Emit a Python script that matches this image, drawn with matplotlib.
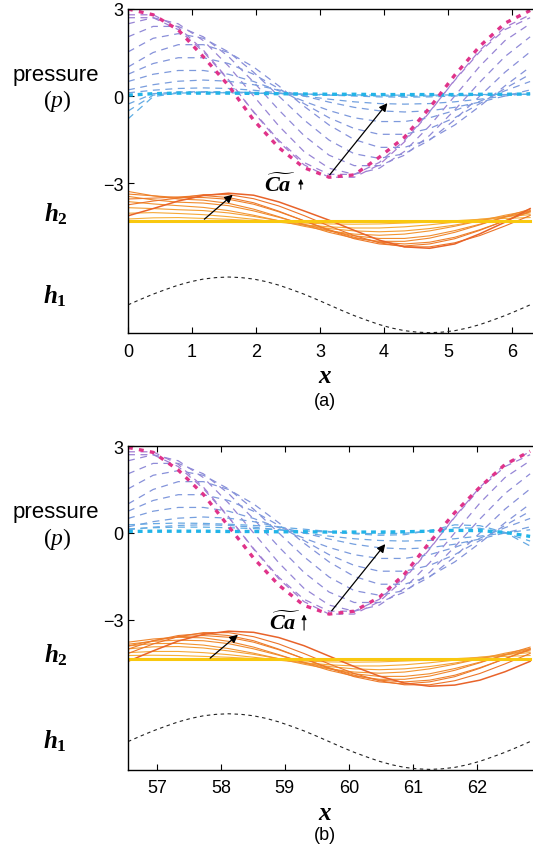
import numpy as np
import matplotlib.pyplot as plt
from matplotlib.colors import LinearSegmentedColormap

plt.rcParams['font.family'] = ['Liberation Sans', 'DejaVu Sans']
plt.rcParams['mathtext.fontset'] = 'custom'
plt.rcParams['mathtext.rm'] = 'Liberation Serif'
plt.rcParams['mathtext.it'] = 'Liberation Serif:italic:bold'
plt.rcParams['mathtext.bf'] = 'Liberation Serif:bold'
plt.rcParams['mathtext.sf'] = 'Liberation Serif:italic'
plt.rcParams['lines.scale_dashes'] = False

# sample positions inside one wavelength (panel b starts at 18*pi)
U = [0.000, 0.393, 0.785, 1.178, 1.571, 1.963, 2.356, 2.749, 3.142,
     3.534, 3.927, 4.320, 4.712, 5.105, 5.498, 5.890, 6.283]
U_FINE = [0.000, 0.196, 0.393, 0.589, 0.785, 0.982, 1.178, 1.374, 1.571,
          1.767, 1.963, 2.160, 2.356, 2.553, 2.749, 2.945, 3.142, 3.338,
          3.534, 3.731, 3.927, 4.123, 4.320, 4.516, 4.712, 4.909, 5.105,
          5.301, 5.498, 5.694, 5.890, 6.087, 6.283]
X0_A = 0.0
X0_B = 56.549

# pressure, smallest Ca (magenta)
P_MAG_A = [3.0, 2.8, 2.28, 1.35, 0.36, -0.83, -1.78, -2.47, -2.8,
           -2.72, -2.11, -1.42, -0.41, 0.72, 1.72, 2.51, 2.95]
P_MAG_B = [2.95, 2.78, 2.17, 1.33, 0.23, -0.87, -1.8, -2.5, -2.8,
           -2.7, -2.22, -1.42, -0.33, 0.7, 1.58, 2.36, 2.82]

# pressure, intermediate Ca (same in both windows)
P_MID = [
    [2.80, 2.80, 2.37, 1.58, 0.56, -0.56, -1.58, -2.37, -2.80, -2.80, -2.37, -1.58, -0.56, 0.56, 1.58, 2.37, 2.80],
    [2.70, 2.70, 2.29, 1.53, 0.54, -0.54, -1.53, -2.29, -2.70, -2.70, -2.29, -1.53, -0.54, 0.54, 1.53, 2.29, 2.70],
    [2.49, 2.70, 2.49, 1.91, 1.03, 0.0, -1.03, -1.91, -2.49, -2.70, -2.49, -1.91, -1.03, 0.0, 1.03, 1.91, 2.49],
    [2.04, 2.40, 2.40, 2.04, 1.36, 0.48, -0.48, -1.36, -2.04, -2.40, -2.40, -2.04, -1.36, -0.48, 0.48, 1.36, 2.04],
    [1.52, 1.99, 2.15, 1.99, 1.52, 0.82, 0.0, -0.82, -1.52, -1.99, -2.15, -1.99, -1.52, -0.82, 0.0, 0.82, 1.52],
    [1.00, 1.50, 1.77, 1.77, 1.50, 1.00, 0.35, -0.35, -1.00, -1.50, -1.77, -1.77, -1.50, -1.00, -0.35, 0.35, 1.00],
    [0.75, 1.12, 1.32, 1.32, 1.12, 0.75, 0.26, -0.26, -0.75, -1.12, -1.32, -1.32, -1.12, -0.75, -0.26, 0.26, 0.75],
    [0.50, 0.75, 0.88, 0.88, 0.75, 0.50, 0.18, -0.18, -0.50, -0.75, -0.88, -0.88, -0.75, -0.50, -0.18, 0.18, 0.50],
    [0.21, 0.39, 0.51, 0.55, 0.51, 0.39, 0.21, 0.0, -0.21, -0.39, -0.51, -0.55, -0.51, -0.39, -0.21, 0.0, 0.21],
    [0.11, 0.20, 0.26, 0.28, 0.26, 0.20, 0.11, 0.0, -0.11, -0.20, -0.26, -0.28, -0.26, -0.20, -0.11, 0.0, 0.11],
]

# pressure, large Ca (near zero)
P_NEAR_A = [
    [-0.28, 0.08, 0.14, 0.15, 0.14, 0.12, 0.09, 0.06, 0.03, 0.0, -0.03, -0.04, -0.03, 0.0, 0.03, 0.05, 0.06],
    [-0.52, 0.03, 0.12, 0.13, 0.12, 0.1, 0.08, 0.06, 0.04, 0.02, 0.0, -0.01, 0.0, 0.02, 0.04, 0.05, 0.06],
    [-0.79, -0.02, 0.1, 0.12, 0.11, 0.1, 0.08, 0.07, 0.05, 0.04, 0.03, 0.03, 0.03, 0.04, 0.05, 0.06, 0.06],
]
P_NEAR_B = [
    [0.28, 0.32, 0.34, 0.33, 0.3, 0.26, 0.2, 0.13, 0.05, -0.03, -0.08, -0.06, 0.08, 0.28, 0.25, 0.02, -0.45],
    [0.14, 0.18, 0.2, 0.2, 0.18, 0.15, 0.11, 0.07, 0.03, -0.01, -0.03, -0.01, 0.07, 0.18, 0.16, 0.0, -0.28],
]
P_BLUE_A = [0.03, 0.08, 0.1, 0.1, 0.1, 0.09, 0.08, 0.07, 0.06, 0.06, 0.05, 0.05, 0.05, 0.05, 0.06, 0.06, 0.07]
P_BLUE_B = [0.05, 0.06, 0.06, 0.06, 0.05, 0.05, 0.04, 0.04, 0.03, 0.03, 0.03, 0.04, 0.06, 0.09, 0.08, 0.02, -0.12]

# interface h2 (shifted for display)
H2_FLAT_A = -4.3
H2_FLAT_B = -4.34
H2_A = [
    [-4.24, -4.2, -4.19, -4.22, -4.25, -4.3, -4.35, -4.38, -4.41, -4.42, -4.41, -4.38, -4.35, -4.3, -4.25, -4.22, -4.19],
    [-4.04, -4.02, -4.05, -4.09, -4.16, -4.25, -4.35, -4.44, -4.51, -4.55, -4.55, -4.51, -4.44, -4.35, -4.25, -4.16, -4.09],
    [-3.85, -3.88, -3.92, -3.95, -4.03, -4.15, -4.3, -4.45, -4.57, -4.65, -4.68, -4.65, -4.57, -4.45, -4.3, -4.15, -4.03],
    [-3.64, -3.72, -3.78, -3.84, -3.95, -4.11, -4.3, -4.49, -4.65, -4.76, -4.8, -4.76, -4.65, -4.49, -4.3, -4.11, -3.95],
    [-3.46, -3.58, -3.66, -3.69, -3.78, -3.96, -4.18, -4.42, -4.64, -4.82, -4.91, -4.91, -4.82, -4.64, -4.42, -4.18, -3.96],
    [-3.29, -3.44, -3.55, -3.59, -3.7, -3.9, -4.16, -4.44, -4.7, -4.9, -5.01, -5.01, -4.9, -4.7, -4.44, -4.16, -3.9],
    [-3.38, -3.44, -3.5, -3.5, -3.56, -3.73, -3.99, -4.3, -4.61, -4.87, -5.04, -5.1, -5.04, -4.87, -4.61, -4.3, -3.99],
    [-3.55, -3.52, -3.48, -3.43, -3.5, -3.68, -3.97, -4.3, -4.63, -4.92, -5.1, -5.17, -5.1, -4.92, -4.63, -4.3, -3.97],
    [-3.75, -3.62, -3.52, -3.4, -3.4, -3.54, -3.79, -4.12, -4.48, -4.81, -5.06, -5.2, -5.2, -5.06, -4.81, -4.48, -4.12],
    [-4.13, -3.88, -3.62, -3.43, -3.35, -3.42, -3.65, -3.96, -4.28, -4.63, -4.97, -5.2, -5.25, -5.1, -4.75, -4.35, -3.88],
]
H2_B = [
    [-4.23, -4.22, -4.23, -4.26, -4.29, -4.34, -4.39, -4.42, -4.45, -4.46, -4.45, -4.42, -4.39, -4.34, -4.29, -4.26, -4.23],
    [-4.13, -4.09, -4.09, -4.13, -4.2, -4.29, -4.39, -4.48, -4.55, -4.59, -4.59, -4.55, -4.48, -4.39, -4.29, -4.2, -4.13],
    [-4.0, -3.93, -3.92, -3.97, -4.07, -4.19, -4.34, -4.49, -4.61, -4.69, -4.72, -4.69, -4.61, -4.49, -4.34, -4.19, -4.07],
    [-3.9, -3.82, -3.81, -3.87, -3.99, -4.15, -4.34, -4.53, -4.69, -4.8, -4.84, -4.8, -4.69, -4.53, -4.34, -4.15, -3.99],
    [-3.84, -3.74, -3.7, -3.72, -3.82, -4.0, -4.22, -4.46, -4.68, -4.86, -4.95, -4.95, -4.86, -4.68, -4.46, -4.22, -4.0],
    [-3.77, -3.66, -3.6, -3.62, -3.74, -3.94, -4.2, -4.48, -4.74, -4.94, -5.05, -5.05, -4.94, -4.74, -4.48, -4.2, -3.94],
    [-3.9, -3.72, -3.58, -3.54, -3.6, -3.77, -4.03, -4.34, -4.65, -4.91, -5.08, -5.14, -5.08, -4.91, -4.65, -4.34, -4.03],
    [-4.01, -3.72, -3.54, -3.47, -3.54, -3.72, -4.01, -4.34, -4.67, -4.96, -5.14, -5.21, -5.14, -4.96, -4.67, -4.34, -4.01],
    [-4.16, -3.83, -3.58, -3.44, -3.44, -3.58, -3.83, -4.16, -4.52, -4.85, -5.1, -5.24, -5.24, -5.1, -4.85, -4.52, -4.16],
    [-4.43, -4.07, -3.73, -3.5, -3.39, -3.43, -3.61, -3.89, -4.25, -4.61, -4.94, -5.18, -5.29, -5.25, -5.08, -4.79, -4.43],
]

# wall h1 (shifted for display)
H1 = [-7.2, -7.01, -6.83, -6.67, -6.52, -6.4, -6.31, -6.26, -6.24, -6.26, -6.31,
      -6.4, -6.52, -6.67, -6.83, -7.01, -7.2, -7.39, -7.57, -7.73, -7.88, -8.0,
      -8.09, -8.14, -8.16, -8.14, -8.09, -8.0, -7.88, -7.73, -7.57, -7.39, -7.2]

X_TICKS_A = [0, 1, 2, 3, 4, 5, 6]
X_TICKS_B = [57, 58, 59, 60, 61, 62]
Y_TICKS = [3, 0, -3]

W, H = 533, 853
p_cmap = LinearSegmentedColormap.from_list('p', ['#A57CD2', '#8A8FD9', '#7A9DDD', '#5FAEE5'])
h_cmap = LinearSegmentedColormap.from_list('h', ['#F7B13A', '#F08C2E', '#EC7429'])


def draw_panel(ax, x0, p_mag, p_near, p_blue, h2_list, h2_flat, xticks):
    xu = np.array(U) + x0
    xf = np.array(U_FINE) + x0

    mids = P_MID + p_near
    for i, yv in enumerate(mids):
        ax.plot(xu, yv, color=p_cmap(i / (len(mids) - 1)), lw=0.9,
                dashes=(5, 4))
    ax.plot(xu, p_blue, color='#22B4E8', lw=2.4, dashes=(3.5, 3.5))
    ax.plot(xu, p_mag, color='#E0338A', lw=2.4, dashes=(3.5, 4.5))

    for i, yv in enumerate(h2_list):
        last = i == len(h2_list) - 1
        ax.plot(xu, yv, color='#E8632A' if last else h_cmap(i / (len(h2_list) - 2)),
                lw=1.1 if last else 0.8)
    ax.plot([xu[0], xu[-1]], [h2_flat, h2_flat], color='#F9C80F', lw=2.2)

    ax.plot(xf, H1, color='#222222', lw=0.8, linestyle=(0, (2.5, 2.5)))

    ax.set_xlim(x0, x0 + 6.4)
    ax.set_ylim(-8.17, 3)
    ax.set_xticks(xticks)
    ax.set_yticks(Y_TICKS)
    ax.set_yticklabels(['3', '0', '\u22123'])
    ax.tick_params(direction='in', length=4, width=0.8, labelsize=13,
                   top=True, right=False)
    ax.tick_params(axis='x', pad=7)
    ax.tick_params(axis='y', pad=3)
    ax.spines['right'].set_visible(False)
    for s in ['left', 'bottom', 'top']:
        ax.spines[s].set_linewidth(1.0)


fig = plt.figure(figsize=(W / 100, H / 100), dpi=100)
ax_a = fig.add_axes([128 / W, 1 - 334 / H, 409.6 / W, 324 / H])
ax_b = fig.add_axes([128 / W, 1 - 770.7 / H, 409.6 / W, 323.7 / H])

draw_panel(ax_a, X0_A, P_MAG_A, P_NEAR_A, P_BLUE_A, H2_A, H2_FLAT_A, X_TICKS_A)
draw_panel(ax_b, X0_B, P_MAG_B, P_NEAR_B, P_BLUE_B, H2_B, H2_FLAT_B, X_TICKS_B)

arrow = dict(arrowstyle='-|>', color='k', lw=0.9, mutation_scale=12)
thin = dict(arrowstyle='-|>', color='k', lw=0.8, mutation_scale=7)

ax_a.annotate('', xy=(4.08, -0.17), xytext=(3.125, -2.79), arrowprops=arrow)
ax_a.annotate('', xy=(1.67, -3.34), xytext=(1.16, -4.31), arrowprops=arrow)
ax_a.annotate('', xy=(2.70, -2.76), xytext=(2.70, -3.31), arrowprops=thin)
ax_a.text(2.375, -3.03, r'$\widetilde{Ca}$', fontsize=16, ha='center', va='center')

ax_b.annotate('', xy=(60.596, -0.31), xytext=(59.705, -2.76), arrowprops=arrow)
ax_b.annotate('', xy=(58.30, -3.45), xytext=(57.80, -4.38), arrowprops=arrow)
ax_b.annotate('', xy=(59.30, -2.72), xytext=(59.30, -3.45), arrowprops=thin)
ax_b.text(58.99, -3.07, r'$\widetilde{Ca}$', fontsize=16, ha='center', va='center')


def ftext(x, y, s, **kw):
    fig.text(x / W, 1 - y / H, s, ha='center', va='center', **kw)


for dy in (0, 438):
    ftext(56, 75 + dy, 'pressure', fontsize=16)
    ftext(57, 101 + dy, r'$(\mathsf{p})$', fontsize=17)
ftext(56, 214, r'$h_\mathbf{2}$', fontsize=18)
ftext(55, 296, r'$h_\mathbf{1}$', fontsize=18)
ftext(56, 655, r'$h_\mathbf{2}$', fontsize=18)
ftext(55, 741, r'$h_\mathbf{1}$', fontsize=18)
ftext(325, 376, r'$x$', fontsize=18)
ftext(325, 813, r'$x$', fontsize=18)
ftext(325, 402, '(a)', fontsize=13)
ftext(325, 836, '(b)', fontsize=13)

fig.savefig('out.png', dpi=100)
